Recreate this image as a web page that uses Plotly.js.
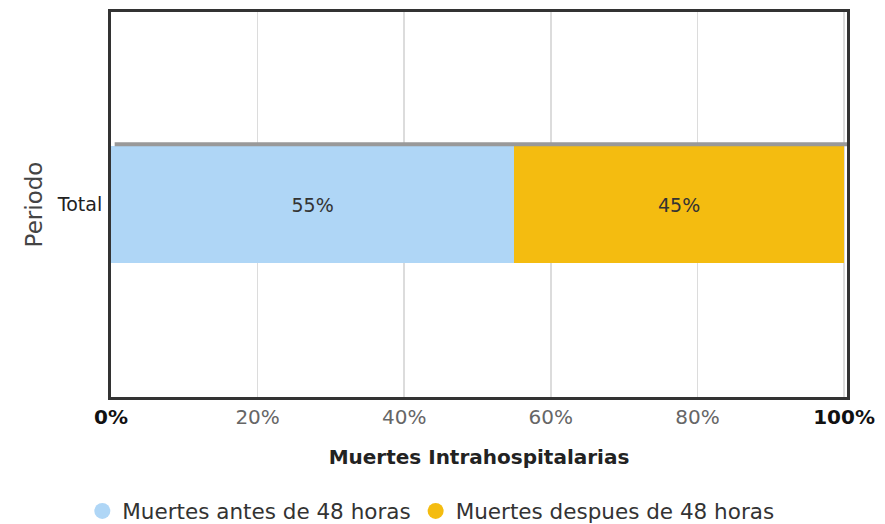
<!DOCTYPE html>
<html><head><meta charset="utf-8">
<script src="https://cdn.plot.ly/plotly-3.0.1.min.js"></script>
<style>html,body{margin:0;padding:0;background:#fff}#chart{width:885px;height:524px}</style>
</head><body><div id="chart"></div>
<script>
const categories = ["Total"];
const seriesNames = ["Muertes antes de 48 horas", "Muertes despues de 48 horas"];
const antes = [55];
const despues = [45];
const tickValues = [0, 20, 40, 60, 80, 100];
const tickLabels = ["0%", "20%", "40%", "60%", "80%", "100%"];
const colors = ["#AFD6F6", "#F4BC10"];
const barWidth = 0.305;
const font = "DejaVu Sans, Verdana, sans-serif";

function barTrace(vals, name, color) {
  return {
    type: "bar", orientation: "h", y: categories, x: vals, name: name,
    width: barWidth, marker: {color: color, line: {width: 0}},
    text: vals.map(v => v + "%"), textposition: "inside", insidetextanchor: "middle",
    textfont: {family: font, size: 19, color: "#333"},
    hoverinfo: "none", showlegend: false
  };
}
function legendTrace(name, color) {
  return {type: "scatter", mode: "markers", x: [null], y: [null], name: name,
    marker: {color: color, size: 17, symbol: "circle"}, hoverinfo: "none"};
}
const data = [
  barTrace(antes, seriesNames[0], colors[0]),
  barTrace(despues, seriesNames[1], colors[1]),
  legendTrace(seriesNames[0], colors[0]),
  legendTrace(seriesNames[1], colors[1])
];
const tickText = tickLabels.map((t, i) =>
  (i === 0 || i === tickLabels.length - 1) ? "<b>" + t + "</b>" : "<span style='color:#666'>" + t + "</span>");
const layout = {
  width: 885, height: 524,
  margin: {l: 111, r: 38, t: 12, b: 127},
  paper_bgcolor: "#fff", plot_bgcolor: "#fff",
  barmode: "stack",
  font: {family: font, color: "#222"},
  xaxis: {
    range: [0, 100.4], tickvals: tickValues, ticktext: tickText,
    tickfont: {family: font, size: 20, color: "#111"},
    showgrid: true, gridcolor: "#dcdcdc", gridwidth: 1.5,
    showline: true, mirror: true, linecolor: "#333", linewidth: 3,
    zeroline: false, ticks: "", ticklabelstandoff: 0, automargin: false,
    title: {text: "<b>Muertes Intrahospitalarias</b>", font: {family: font, size: 20, color: "#222"}, standoff: 22}
  },
  yaxis: {
    categoryorder: "array", categoryarray: categories,
    range: [-0.5, 0.5], automargin: false,
    tickfont: {family: font, size: 19, color: "#222"},
    showgrid: false, showline: true, mirror: true, linecolor: "#333", linewidth: 3,
    zeroline: false, ticks: "", ticklabelstandoff: 2,
    title: {text: "Periodo", font: {family: font, size: 23, color: "#444"}, standoff: 8}
  },
  legend: {
    orientation: "h", traceorder: "normal", x: 0.093, xref: "container", xanchor: "left",
    y: 0.025, yref: "container", yanchor: "middle",
    font: {family: font, size: 21.5, color: "#333"}, itemwidth: 20, tracegroupgap: 0,
    bgcolor: "rgba(0,0,0,0)"
  },
  shapes: [{
    type: "line", xref: "x", yref: "y", x0: 0.5, x1: 100.4,
    y0: barWidth / 2 + 0.004, y1: barWidth / 2 + 0.004,
    line: {color: "#999", width: 4}
  }]
};
Plotly.newPlot("chart", data, layout, {displayModeBar: false, staticPlot: true});
</script>
</body></html>
